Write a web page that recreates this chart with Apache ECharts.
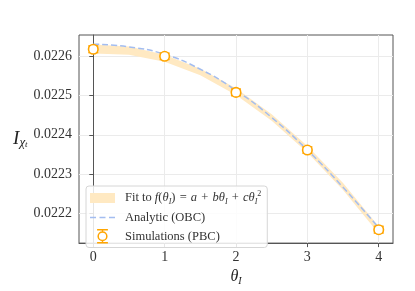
<!DOCTYPE html>
<html><head><meta charset="utf-8">
<script src="https://cdn.jsdelivr.net/npm/echarts@6/dist/echarts.min.js"></script>
<style>html,body{margin:0;padding:0;background:#fff}#c{width:415px;height:291px}</style>
</head><body><div id="c"></div>
<script>
// ---- data ----
const thetaPts = [0, 1, 2, 3, 4];
const simValues = [0.022618, 0.022600, 0.022508, 0.022361, 0.022158];
const simErrors = [0.0000085, 0.000008, 0.0000085, 0.000008, 0.0000085];

const curveTheta = [0, 0.5, 1, 1.5, 2, 2.5, 3, 3.5, 4];
const fitLower = [0.022607, 0.022604, 0.022586, 0.0225515, 0.0225015, 0.0224355, 0.0223545, 0.022259, 0.022148];
const fitUpper = [0.022630, 0.022625, 0.022604, 0.0225685, 0.0225185, 0.0224525, 0.0223715, 0.022277, 0.022166];
const analyticValues = [0.022631, 0.022624, 0.022605, 0.022567, 0.022513, 0.022444, 0.022361, 0.022266, 0.022163];

const xTicks = [0, 1, 2, 3, 4];
const yTicks = [0.0222, 0.0223, 0.0224, 0.0225, 0.0226];

// ---- styles ----
const serif = '"Liberation Serif", "DejaVu Serif", serif';
const ORANGE = '#FFA500';
const BAND = '#ffe9c2';
const BLUE = '#a3bdf0';
const FRAME = '#555';

const bandData = curveTheta.map((t, i) => [t, fitLower[i], fitUpper[i]]);
const analyticData = curveTheta.map((t, i) => [t, analyticValues[i]]);
const simData = thetaPts.map((t, i) => [t, simValues[i]]);
const errData = thetaPts.map((t, i) => [t, simValues[i] - simErrors[i], simValues[i] + simErrors[i]]);

const OP = s => ' \u200a' + s + '\u200a ';
const legendLabels = {
  fit: 'Fit to {m|f}({m|θ}{sub|I})' + OP('=') + '{m|a}' + OP('+') + '{m|bθ}{sub|I}' + OP('+') + '{m|cθ}{sub|I}{sup|2}',
  analytic: 'Analytic (OBC)',
  sim: 'Simulations (PBC)'
};

const chart = echarts.init(document.getElementById('c'));
chart.setOption({
  animation: false,
  backgroundColor: '#fff',
  grid: { left: 79, right: 22, top: 35, bottom: 38, show: true, borderColor: FRAME, borderWidth: 1, backgroundColor: 'transparent' },
  xAxis: {
    type: 'value', min: -0.2, max: 4.2,
    name: '{t|θ}{s|I}', nameLocation: 'middle', nameGap: 20,
    nameTextStyle: { rich: {
      t: { fontFamily: serif, fontStyle: 'italic', fontSize: 16, color: '#222', lineHeight: 18 },
      s: { fontFamily: serif, fontStyle: 'italic', fontSize: 10, color: '#222', lineHeight: 10, verticalAlign: 'bottom' }
    } },
    axisLine: { show: true, onZero: false, lineStyle: { color: FRAME, width: 1 } },
    axisTick: { show: true, length: 4, lineStyle: { color: FRAME }, customValues: xTicks },
    axisLabel: { customValues: xTicks, margin: 7, fontFamily: serif, fontSize: 14, color: '#333', formatter: v => String(Math.round(v)) },
    splitLine: { show: true, lineStyle: { color: '#ebebeb', width: 1 } }
  },
  yAxis: {
    type: 'value', min: 0.0221238, max: 0.0226543,
    name: '{I|I}{s|χ}{t|t}', nameLocation: 'middle', nameGap: 51, nameRotate: 0,
    nameTextStyle: { align: 'right', rich: {
      I: { fontFamily: serif, fontStyle: 'italic', fontSize: 19, color: '#222', lineHeight: 20 },
      s: { fontFamily: serif, fontStyle: 'italic', fontSize: 13, color: '#222', lineHeight: 13, verticalAlign: 'bottom' },
      t: { fontFamily: serif, fontStyle: 'italic', fontSize: 9, color: '#222', lineHeight: 8, verticalAlign: 'bottom' }
    } },
    axisLine: { show: true, lineStyle: { color: FRAME, width: 1 } },
    axisTick: { show: true, length: 4, lineStyle: { color: FRAME }, customValues: yTicks },
    axisLabel: { customValues: yTicks, margin: 7, fontFamily: serif, fontSize: 14, color: '#333', formatter: v => v.toFixed(4) },
    splitLine: { show: true, lineStyle: { color: '#ebebeb', width: 1 } }
  },
  legend: {
    orient: 'vertical', left: 86, top: 186,
    padding: [4, 6, 4, 4], itemGap: 5, itemWidth: 25, itemHeight: 13,
    backgroundColor: 'rgba(255,255,255,0.85)', borderColor: '#d6d6d6', borderWidth: 1, borderRadius: 3,
    selectedMode: false,
    data: [
      { name: 'fit', icon: 'path://M0,0h25v10h-25z', itemStyle: { color: BAND } },
      { name: 'analytic', icon: 'path://M0,0h6v1.4h-6zM9.5,0h6v1.4h-6zM19,0h6v1.4h-6z', itemStyle: { color: BLUE } },
      { name: 'sim', icon: 'path://M0,0.5H10M5,0.5V2.5M9,6.5A4,4,0,1,1,1,6.5A4,4,0,1,1,9,6.5M5,10.5V12.5M0,12.5H10',
        itemStyle: { color: '#fff', borderColor: ORANGE, borderWidth: 1.5 } }
    ],
    formatter: name => legendLabels[name],
    textStyle: { fontFamily: serif, fontSize: 12.5, color: '#333', padding: [0, 0, 0, 5], rich: {
      m: { fontFamily: serif, fontStyle: 'italic', fontSize: 12.5, color: '#333', lineHeight: 16 },
      sub: { fontFamily: serif, fontStyle: 'italic', fontSize: 8, color: '#333', lineHeight: 8, verticalAlign: 'bottom' },
      sup: { fontFamily: serif, fontSize: 8, color: '#333', lineHeight: 8, verticalAlign: 'top' }
    } }
  },
  series: [
    { type: 'custom', name: 'fit', data: bandData, encode: { x: 0, y: [1, 2] }, z: 1, silent: true,
      itemStyle: { color: BAND },
      renderItem: (params, api) => {
        if (params.dataIndex !== 0) return null;
        const top = [], bottom = [];
        for (let i = 0; i < curveTheta.length; i++) {
          top.push(api.coord([curveTheta[i], fitUpper[i]]));
          bottom.unshift(api.coord([curveTheta[i], fitLower[i]]));
        }
        return { type: 'polygon', shape: { points: top.concat(bottom) }, style: { fill: BAND } };
      } },
    { type: 'line', name: 'analytic', data: analyticData, smooth: true, symbol: 'none', showSymbol: false,
      lineStyle: { color: BLUE, width: 1.5, type: [6, 3] }, itemStyle: { color: BLUE }, z: 2 },
    { type: 'custom', name: 'sim', data: errData, encode: { x: 0, y: [1, 2] }, z: 3,
      itemStyle: { color: ORANGE },
      renderItem: (params, api) => {
        const x = api.value(0);
        const lo = api.coord([x, api.value(1)]);
        const hi = api.coord([x, api.value(2)]);
        const hw = 5;
        const st = { stroke: ORANGE, lineWidth: 1.5 };
        return { type: 'group', children: [
          { type: 'line', shape: { x1: lo[0], y1: lo[1], x2: hi[0], y2: hi[1] }, style: st },
          { type: 'line', shape: { x1: lo[0] - hw, y1: lo[1], x2: lo[0] + hw, y2: lo[1] }, style: st },
          { type: 'line', shape: { x1: hi[0] - hw, y1: hi[1], x2: hi[0] + hw, y2: hi[1] }, style: st }
        ] };
      } },
    { type: 'scatter', name: 'sim', data: simData, symbol: 'circle', symbolSize: 9.5, z: 4,
      itemStyle: { color: '#fff', borderColor: ORANGE, borderWidth: 1.6, opacity: 1 } }
  ]
});
</script></body></html>
